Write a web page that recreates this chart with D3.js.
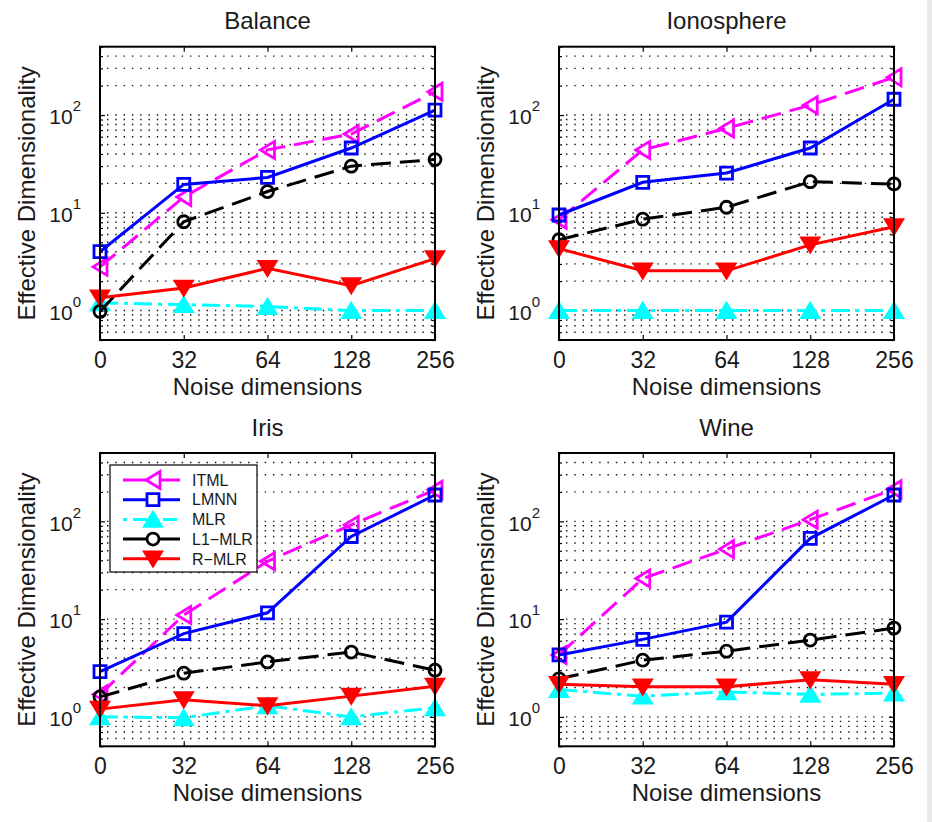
<!DOCTYPE html>
<html>
<head>
<meta charset="utf-8">
<script src="https://cdn.jsdelivr.net/npm/d3@7"></script>
<style>
  body { margin: 0; background: #fff; }
  svg { display: block; font-family: "Liberation Sans", Arial, Helvetica, sans-serif; }
  .grid line { stroke: #111; stroke-width: 1.4; stroke-dasharray: 1.4 6.9; }
  .tick line { stroke: #000; stroke-width: 1.2; }
  .tick text { fill: #1a1a1a; }
  .label { fill: #1a1a1a; font-size: 24px; }
</style>
</head>
<body>
<svg width="932" height="822"></svg>
<script>
const svg = d3.select('svg');

const noiseDims = ['0', '32', '64', '128', '256'];
const methods = ['ITML', 'LMNN', 'MLR', 'L1\u2212MLR', 'R\u2212MLR'];
const datasets = ['Balance', 'Ionosphere', 'Iris', 'Wine'];

// effective dimensionality, rows: ITML, LMNN, MLR, L1-MLR, R-MLR
const balanceValues = [
    [2.8, 14.5, 44, 64, 173],
    [4.0, 19.5, 23, 46, 112],
    [1.2, 1.15, 1.1, 1.0, 1.0],
    [0.98, 8.1, 16.5, 30, 35],
    [1.35, 1.7, 2.7, 1.8, 3.4]
];
const ionosphereValues = [
    [8.5, 44, 73, 126, 243],
    [9.5, 20.5, 25.5, 46, 145],
    [1.0, 1.0, 1.0, 1.0, 1.0],
    [5.3, 8.6, 11.4, 20.8, 19.7],
    [4.3, 2.55, 2.55, 4.7, 7.2]
];
const irisValues = [
    [1.7, 11, 39, 92, 210],
    [2.9, 7.1, 11.6, 70, 186],
    [1.0, 0.98, 1.3, 1.0, 1.24],
    [1.6, 2.8, 3.65, 4.6, 3.0],
    [1.2, 1.5, 1.3, 1.63, 2.06]
];
const wineValues = [
    [4.3, 26, 52, 104, 213],
    [4.3, 6.2, 9.3, 67, 186],
    [1.9, 1.63, 1.8, 1.7, 1.75],
    [2.45, 3.8, 4.7, 6.1, 8.1],
    [2.15, 2.03, 2.03, 2.4, 2.15]
];
const datasetValues = [balanceValues, ionosphereValues, irisValues, wineValues];

const yDomain = [0.5, 500];
const yMajorTicks = [1, 10, 100];
const yExponents = ['0', '1', '2'];

// look of each method's line
const seriesStyle = [
    { color: '#ff00ff', dash: '20,9', legendDash: null, marker: 'left', fill: 'none' },
    { color: '#0000ff', dash: null, legendDash: null, marker: 'square', fill: 'none' },
    { color: '#00ffff', dash: '18,6,4,6', legendDash: '4,6,14,6', marker: 'up', fill: '#00ffff' },
    { color: '#000000', dash: '20,9', legendDash: null, marker: 'circle', fill: 'none' },
    { color: '#ff0000', dash: null, legendDash: null, marker: 'down', fill: '#ff0000' }
];

const markerPath = {
    left: 'M-7,0L7,-8.5L7,8.5Z',
    up: 'M0,-7L8.5,7L-8.5,7Z',
    down: 'M0,7L8.5,-7L-8.5,-7Z',
    square: 'M-6,-6H6V6H-6Z',
    circle: 'M6,0A6,6 0 1,1 -6,0A6,6 0 1,1 6,0Z'
};

// where each panel's box sits
const boxW = 335, boxH = 293.3;
const panelPos = [[100, 46.7], [559, 46.7], [100, 453], [559, 453]];

const xScale = d3.scalePoint().domain(noiseDims).range([0, boxW]);
const yScale = d3.scaleLog().domain(yDomain).range([boxH, 0]);
const allTicks = yScale.ticks();
const minorTicks = allTicks.filter(v => !yMajorTicks.includes(v));

// light strip on the right edge of the picture
svg.append('rect')
    .attr('x', 927).attr('y', 0)
    .attr('width', 5).attr('height', 822)
    .attr('fill', '#e9e9e9');

const drawMarker = (g, style, cx, cy, fill) => {
    g.append('path')
        .attr('d', markerPath[style.marker])
        .attr('transform', `translate(${cx},${cy})`)
        .attr('fill', fill || style.fill)
        .attr('stroke', style.color)
        .attr('stroke-width', 2.8);
};

const drawPanel = (i) => {
    const [px, py] = panelPos[i];
    const g = svg.append('g').attr('transform', `translate(${px},${py})`);

    // dotted grid on every log tick
    g.append('g').attr('class', 'grid')
        .selectAll('line')
        .data(allTicks.filter(v => v > yDomain[0] && v < yDomain[1]))
        .join('line')
        .attr('x1', 7).attr('x2', boxW)
        .attr('y1', d => yScale(d)).attr('y2', d => yScale(d));

    // ticks pointing inward on all four sides
    const yAxisG = g.append('g')
        .call(d3.axisLeft(yScale).tickValues(yMajorTicks).tickSize(-5).tickPadding(19).tickFormat(() => '10'));
    yAxisG.selectAll('.tick text')
        .attr('font-size', 21)
        .attr('dy', '0.42em')
        .append('tspan')
        .attr('dy', -13)
        .attr('font-size', 15)
        .text((d, j) => yExponents[j]);
    g.append('g').call(d3.axisLeft(yScale).tickValues(minorTicks).tickSize(-3).tickFormat(''));
    g.append('g').attr('transform', `translate(${boxW},0)`)
        .call(d3.axisRight(yScale).tickValues(yMajorTicks).tickSize(-5).tickFormat(''));
    g.append('g').attr('transform', `translate(${boxW},0)`)
        .call(d3.axisRight(yScale).tickValues(minorTicks).tickSize(-3).tickFormat(''));

    const xAxisG = g.append('g').attr('transform', `translate(0,${boxH})`)
        .call(d3.axisBottom(xScale).tickSize(-5).tickPadding(11.5));
    xAxisG.selectAll('.tick text').attr('font-size', 23);
    g.append('g').call(d3.axisTop(xScale).tickSize(-5).tickFormat(''));
    g.selectAll('.domain').remove();

    // lines and markers
    datasetValues[i].forEach((vals, s) => {
        const style = seriesStyle[s];
        const line = d3.line()
            .x((d, k) => xScale(noiseDims[k]))
            .y(d => yScale(d));
        g.append('path')
            .attr('d', line(vals))
            .attr('fill', 'none')
            .attr('stroke', style.color)
            .attr('stroke-width', 3)
            .attr('stroke-dasharray', style.dash);
        vals.forEach((v, k) => drawMarker(g, style, xScale(noiseDims[k]), yScale(v)));
    });

    // box
    g.append('rect')
        .attr('width', boxW).attr('height', boxH)
        .attr('fill', 'none')
        .attr('stroke', '#000')
        .attr('stroke-width', 2);

    // title and axis labels
    g.append('text').attr('class', 'label')
        .attr('x', boxW / 2).attr('y', -17.5)
        .attr('text-anchor', 'middle')
        .text(datasets[i]);
    g.append('text').attr('class', 'label')
        .attr('x', boxW / 2).attr('y', boxH + 55)
        .attr('text-anchor', 'middle')
        .text('Noise dimensions');
    g.append('text').attr('class', 'label')
        .attr('transform', `translate(-65,${boxH / 2}) rotate(-90)`)
        .attr('text-anchor', 'middle')
        .text('Effective Dimensionality');

    return g;
};

const panels = datasets.map((d, i) => drawPanel(i));

// legend inside the Iris panel
const legend = panels[2].append('g').attr('transform', 'translate(10,12)');
legend.append('rect')
    .attr('width', 147).attr('height', 107)
    .attr('fill', '#fff')
    .attr('stroke', '#000')
    .attr('stroke-width', 1.2);
methods.forEach((m, s) => {
    const style = seriesStyle[s];
    const ly = 15 + s * 19.7;
    legend.append('line')
        .attr('x1', 13).attr('x2', 70)
        .attr('y1', ly).attr('y2', ly)
        .attr('stroke', style.color)
        .attr('stroke-width', 3)
        .attr('stroke-dasharray', style.legendDash);
    drawMarker(legend, style, 43, ly, style.fill === 'none' ? '#fff' : null);
    legend.append('text')
        .attr('x', 82).attr('y', ly)
        .attr('dy', '0.36em')
        .attr('font-size', 16)
        .attr('fill', '#1a1a1a')
        .text(m);
});
</script>
</body>
</html>
